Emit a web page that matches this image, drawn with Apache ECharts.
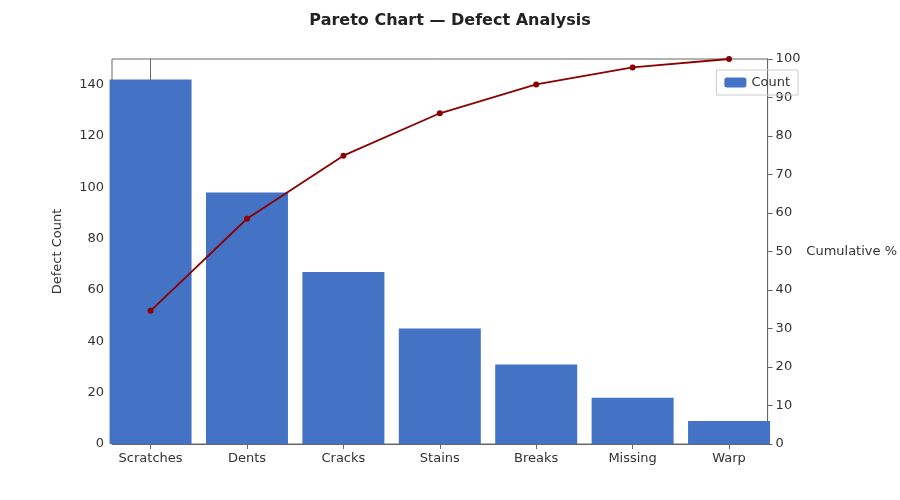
<!DOCTYPE html>
<html><head><meta charset="utf-8">
<script src="https://cdn.jsdelivr.net/npm/echarts@6/dist/echarts.min.js"></script>
<style>html,body{margin:0;padding:0;background:#fff}#c{width:900px;height:500px}</style>
</head><body><div id="c"></div>
<script>
const categories = ['Scratches','Dents','Cracks','Stains','Breaks','Missing','Warp'];
const counts = [142, 98, 67, 45, 31, 18, 9];
const cumulative = [34.6, 58.5, 74.9, 85.9, 93.4, 97.8, 100];
const chart = echarts.init(document.getElementById('c'));
const font = 'DejaVu Sans';
chart.setOption({
  animation: false,
  textStyle: {fontFamily: font},
  title: {text: 'Pareto Chart — Defect Analysis', left: 'center', top: 8,
    textStyle: {fontFamily: font, fontSize: 16, fontWeight: 'bold', color: '#222'}},
  legend: {data: ['Count'], right: 102, top: 70, orient: 'vertical', borderColor: '#ccc', borderWidth: 1,
    padding: [6, 8], itemWidth: 22, itemHeight: 10, textStyle: {fontFamily: font, fontSize: 13, color: '#333'}},
  grid: {left: 112, right: 90, top: 59, bottom: 56, show: true, borderColor: '#666', borderWidth: 1},
  xAxis: {type: 'value', min: -0.4, max: 6.4,
    splitLine: {show: false},
    axisLine: {lineStyle: {color: '#666'}},
    axisTick: {customValues: [0,1,2,3,4,5,6], lineStyle: {color: '#666'}},
    axisLabel: {customValues: [0,1,2,3,4,5,6], formatter: v => categories[Math.round(v)] || '', color: '#333', fontSize: 13}},
  yAxis: [
    {type: 'value', min: 0, max: 150, interval: 20, name: 'Defect Count', nameLocation: 'middle', nameGap: 48,
      nameTextStyle: {fontSize: 13, color: '#333'},
      splitLine: {show: false}, axisLine: {show: true, lineStyle: {color: '#666'}}, axisTick: {show: true},
      axisLabel: {color: '#333', fontSize: 13, showMaxLabel: false}},
    {type: 'value', min: 0, max: 100, interval: 10, name: 'Cumulative %', nameLocation: 'middle', nameGap: -2,
      nameRotate: 0, nameTextStyle: {fontSize: 13, color: '#333', align: 'left'},
      splitLine: {show: false}, axisLine: {show: true, lineStyle: {color: '#666'}}, axisTick: {show: true},
      axisLabel: {color: '#333', fontSize: 13}}
  ],
  series: [
    {name: 'Count', type: 'bar', yAxisIndex: 0, barWidth: 82, itemStyle: {color: '#4472c4'},
      data: counts.map((v, i) => [i, v])},
    {name: 'Cumulative', type: 'line', yAxisIndex: 1, symbol: 'circle', symbolSize: 6,
      lineStyle: {color: '#8b0000', width: 1.8}, itemStyle: {color: '#8b0000'},
      data: cumulative.map((v, i) => [i, v])}
  ]
});
</script></body></html>
